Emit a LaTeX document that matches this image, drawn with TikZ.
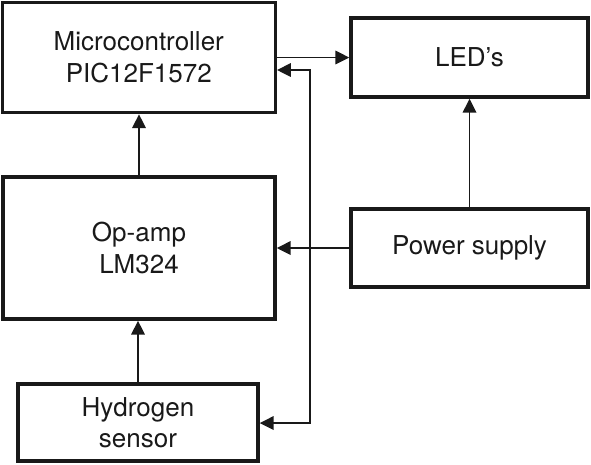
\documentclass[tikz,border=0pt]{standalone}
\usepackage{fontspec}
\setmainfont{TeX Gyre Heros}
\usetikzlibrary{arrows.meta}
\tikzset{
  blk/.style={draw=black!90, line width=3.4pt, align=center, inner sep=0pt,
    font=\fontsize{26}{31.5}\selectfont, text=black!90},
  tip/.tip={Triangle[length=14pt,width=13.5pt]},
  arr/.style={line width=1.8pt, draw=black!90, -tip},
  link/.style={line width=1.8pt, draw=black!90}
}
\begin{document}
\begin{tikzpicture}[x=1pt,y=-1pt]
\useasboundingbox (0,0) rectangle (591,464);
\node[blk, minimum width=273pt, minimum height=110pt] (micro) at (138.75,57.5) {Microcontroller\\PIC12F1572};
\node[blk, minimum width=237pt, minimum height=79pt] (led) at (469.5,57.5) {LED’s};
\node[blk, minimum width=272pt, minimum height=142pt] (opamp) at (139,248) {Op-amp\\LM324};
\node[blk, minimum width=237pt, minimum height=78pt] (power) at (469.5,248) {Power supply};
\node[blk, minimum width=240pt, minimum height=77pt] (sensor) at (138,422.5) {Hydrogen\\sensor};
\coordinate (bustop) at (310,70);
\coordinate (busbot) at (310,423);
\draw[arr] (micro.east) -- (led.west);
\draw[arr] (opamp.north) -- (opamp.north |- micro.south);
\draw[arr] (sensor.north) -- (sensor.north |- opamp.south);
\draw[arr] (power.north) -- (led.south);
\draw[arr] (power.west) -- (opamp.east);
\draw[link, tip-tip] (micro.east |- bustop) -- (bustop) -- (busbot) -- (sensor.east |- busbot);
\end{tikzpicture}
\end{document}
